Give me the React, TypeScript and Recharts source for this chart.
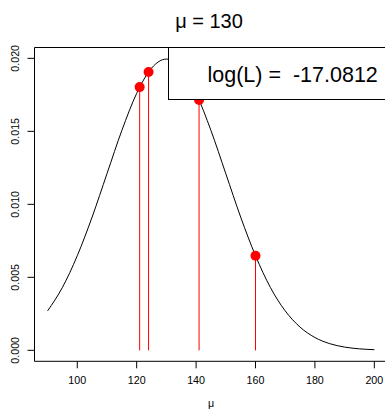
import React from "react";
import {
  ComposedChart,
  Line,
  Scatter,
  XAxis,
  YAxis,
  ReferenceLine,
  ReferenceArea,
} from "recharts";

// Likelihood curve (normal density, mean 130)
const curveX = [90, 95, 100, 105, 110, 115, 120, 125, 130, 135, 140, 145, 150, 155, 160, 165, 170, 175, 180, 185, 190, 195, 200];
const curveY = [
  0.0027, 0.00431, 0.00648, 0.00913, 0.0121, 0.01506, 0.0176, 0.01933, 0.01995,
  0.01933, 0.0176, 0.01506, 0.0121, 0.00913, 0.00648, 0.00431, 0.0027, 0.00159,
  0.000877, 0.000455, 0.000222, 0.000101, 0.0000436,
];

// Observations and their densities
const obsX = [121, 124, 141, 160];
const obsY = [0.01803, 0.01907, 0.01715, 0.00648];

const xTicks = [100, 120, 140, 160, 180, 200];
const yTicks = [0, 0.005, 0.01, 0.015, 0.02];
const yTickLabels = ["0.000", "0.005", "0.010", "0.015", "0.020"];

const titleText = "\u03bc = 130";
const xLabelText = "\u03bc";
const legendText = "log(L) =  -17.0812";

const curveData = curveX.map((x, i) => ({ x, y: curveY[i] }));
const obsData = obsX.map((x, i) => ({ x, y: obsY[i] }));

const FONT = "'Liberation Sans', Arial, Helvetica, sans-serif";
const X_DOMAIN: [number, number] = [85.6, 204.4];
const Y_DOMAIN: [number, number] = [-0.000752, 0.020743];

const YTick = (props: any) => {
  const { y, payload } = props;
  const idx = yTicks.indexOf(payload.value);
  const label = idx >= 0 ? yTickLabels[idx] : String(payload.value);
  const bx = 18.8;
  return (
    <text
      x={bx}
      y={y}
      transform={`rotate(-90, ${bx}, ${y})`}
      textAnchor="middle"
      fontSize={10.7}
      fontFamily={FONT}
      fill="#000"
    >
      {label}
    </text>
  );
};

const Dot = (props: any) => {
  const { cx, cy } = props;
  return <circle cx={cx} cy={cy} r={5} fill="#ff0000" />;
};

export default function App() {
  return (
    <div
      style={{
        position: "absolute",
        left: 0,
        top: 0,
        width: 385,
        height: 412,
        overflow: "hidden",
        background: "#fff",
      }}
    >
      <ComposedChart
        width={400}
        height={412}
        data={curveData}
        margin={{ top: 47.5, right: 12.6, bottom: 0, left: 0 }}
      >
        <XAxis
          dataKey="x"
          type="number"
          domain={X_DOMAIN}
          ticks={xTicks}
          allowDataOverflow
          axisLine={false}
          tickSize={7}
          tickMargin={8.5}
          tickLine={{ stroke: "#000" }}
          tick={{ fontSize: 10.7, fontFamily: FONT, fill: "#000" }}
          height={50.7}
        />
        <YAxis
          type="number"
          domain={Y_DOMAIN}
          ticks={yTicks}
          allowDataOverflow
          axisLine={false}
          tickSize={7}
          tickLine={{ stroke: "#000" }}
          tick={<YTick />}
          width={34.5}
        />
        <ReferenceArea
          x1={X_DOMAIN[0]}
          x2={X_DOMAIN[1]}
          y1={Y_DOMAIN[0]}
          y2={Y_DOMAIN[1]}
          fill="none"
          stroke="#000"
          strokeWidth={1}
          ifOverflow="visible"
        />
        {obsData.map((d, i) => (
          <ReferenceLine
            key={i}
            segment={[
              { x: d.x, y: 0 },
              { x: d.x, y: d.y },
            ]}
            stroke="#ff0000"
            strokeWidth={1}
          />
        ))}
        <Line
          dataKey="y"
          type="monotone"
          stroke="#000"
          strokeWidth={1}
          dot={false}
          activeDot={false}
          isAnimationActive={false}
        />
        <Scatter
          data={obsData}
          dataKey="y"
          shape={<Dot />}
          isAnimationActive={false}
        />
      </ComposedChart>
      <svg
        width={385}
        height={412}
        style={{ position: "absolute", left: 0, top: 0, pointerEvents: "none" }}
      >
        <text
          x={209}
          y={27.5}
          textAnchor="middle"
          fontSize={20}
          fontFamily={FONT}
          fill="#000"
          style={{ whiteSpace: "pre" }}
        >
          {titleText}
        </text>
        <text
          x={211}
          y={406.5}
          textAnchor="middle"
          fontSize={10.7}
          fontFamily={FONT}
          fill="#000"
        >
          {xLabelText}
        </text>
        <rect x={168.5} y={47.5} width={240} height={52} fill="#fff" stroke="#000" strokeWidth={1} />
        <text
          x={207.5}
          y={82.3}
          fontSize={21.5}
          fontFamily={FONT}
          fill="#000"
          style={{ whiteSpace: "pre" }}
        >
          {legendText}
        </text>
      </svg>
    </div>
  );
}
